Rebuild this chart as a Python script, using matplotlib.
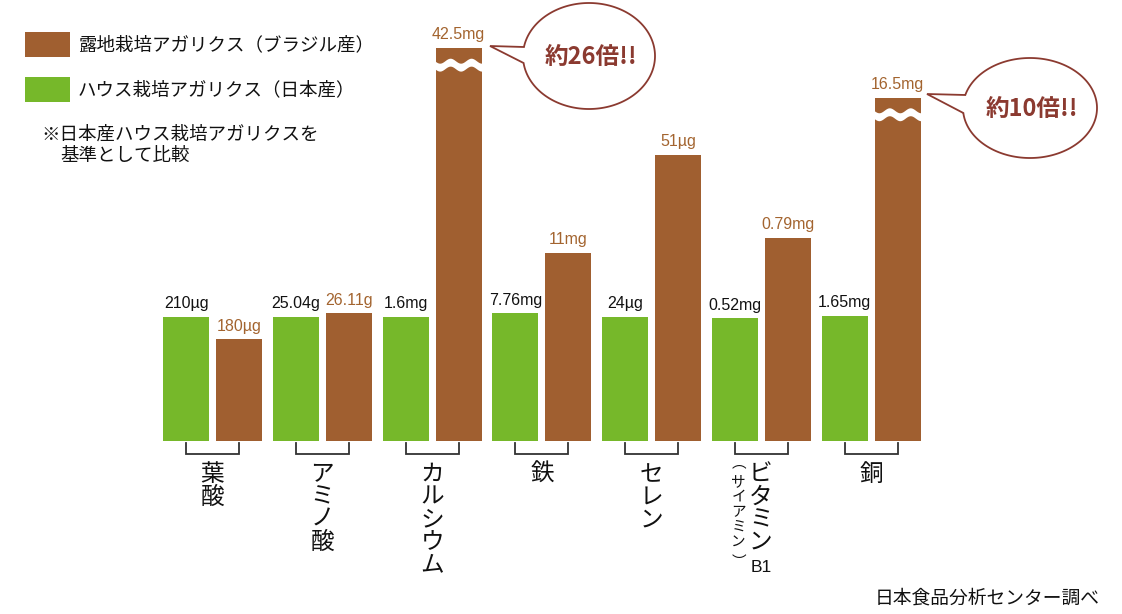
import numpy as np
import matplotlib.pyplot as plt
from matplotlib.patches import Rectangle, Polygon

plt.rcParams['font.family'] = ['Noto Sans CJK JP', 'DejaVu Sans']

# データ（日本産ハウス栽培を基準=1とした見た目の高さ）
categories = ['葉酸', 'アミノ酸', 'カルシウム', '鉄', 'セレン', 'ビタミン', '銅']
japan_labels = ['210µg', '25.04g', '1.6mg', '7.76mg', '24µg', '0.52mg', '1.65mg']
brazil_labels = ['180µg', '26.11g', '42.5mg', '11mg', '51µg', '0.79mg', '16.5mg']
japan_height = [1.0, 1.0, 1.0, 1.03, 1.0, 0.99, 1.01]
brazil_height = [0.82, 1.03, 3.17, 1.52, 2.31, 1.64, 2.77]
broken = [False, False, True, False, False, False, True]
bubble_texts = {2: '約26倍!!', 6: '約10倍!!'}

GREEN = '#76b82a'
BROWN = '#a05f30'
BROWN_TXT = '#a3642f'
RED = '#8b3a30'
NUM_FONT = ['Liberation Sans', 'DejaVu Sans']

fig = plt.figure(figsize=(11.22, 6.14), dpi=100)

# 背景用（ピクセル座標）
bg = fig.add_axes([0, 0, 1, 1])
bg.set_xlim(0, 1122)
bg.set_ylim(614, 0)
bg.axis('off')

ax = fig.add_axes([0.1307, 0.2818, 0.7046, 0.7068])
ax.patch.set_alpha(0)
ax.set_xlim(-0.6, 6.6)
ax.set_ylim(0, 3.5)
ax.axis('off')

x = np.arange(len(categories))
w = 0.419
off = 0.241
ax.bar(x - off, japan_height, width=w, color=GREEN)
ax.bar(x + off, brazil_height, width=w, color=BROWN)

# 数値ラベル
for i in x:
    ax.annotate(japan_labels[i], (i - off, japan_height[i]), xytext=(0, 4),
                textcoords='offset points', ha='center', va='bottom',
                fontsize=11.5, color='#111111', family=NUM_FONT)
    ax.annotate(brazil_labels[i], (i + off, brazil_height[i]), xytext=(0, 4),
                textcoords='offset points', ha='center', va='bottom',
                fontsize=11.5, color=BROWN_TXT, family=NUM_FONT)

# 省略の波線
for i in x:
    if not broken[i]:
        continue
    xs = np.linspace(i + off - w / 2 - 0.01, i + off + w / 2 + 0.01, 200)
    ym = brazil_height[i] - 0.135
    wave = 0.02 * np.sin(2 * np.pi * 2.2 * (xs - xs[0]) / w + np.pi)
    ax.fill_between(xs, ym - 0.032 + wave, ym + 0.032 + wave, color='white', lw=0)

# ブラケット
for i in x:
    ax.plot([i - off, i - off, i + off, i + off], [-0.015, -0.105, -0.105, -0.015],
            color='#333333', lw=1.3, clip_on=False, solid_joinstyle='miter')


def vchar(xc, ch, dx, dy, size, family=None):
    ax.annotate(ch, (xc, 0), xytext=(dx, -dy), textcoords='offset points',
                ha='center', va='center', fontsize=size, color='#111111',
                family=family, annotation_clip=False)


# 項目名（縦書き）
for i in x:
    if i == 5:
        for k, ch in enumerate(categories[i]):
            vchar(i, ch, -0.5, 24 + k * 16.3, 17)
        vchar(i, 'B1', 0, 91, 12.5, NUM_FONT)
        vchar(i, '︵', -16.5, 16, 10.5)
        for k, ch in enumerate('サイアミン'):
            vchar(i, ch, -16.5, 29.5 + k * 10.8, 10.5)
        vchar(i, '︶', -16.5, 87, 10.5)
    else:
        for k, ch in enumerate(categories[i]):
            vchar(i, ch, 0, 24 + k * 16.3, 17)

# 吹き出し
bubbles = [
    (2, 589, 56, 66, 53, (490, 46), 47, 63),
    (6, 1030, 108, 67, 50, (927, 94), 95, 113),
]
for idx, cx, cy, a, b, tip, yu, yl in bubbles:
    tu = np.arctan2((yu - cy) / b, -np.sqrt(1 - ((yu - cy) / b) ** 2))
    tl = np.arctan2((yl - cy) / b, -np.sqrt(1 - ((yl - cy) / b) ** 2))
    if tl < tu:
        tl += 2 * np.pi
    th = np.linspace(tu, tl, 300)
    pts = np.column_stack([cx + a * np.cos(th), cy + b * np.sin(th)])
    pts = np.vstack([pts, tip])
    bg.add_patch(Polygon(pts, closed=True, fc='white', ec=RED, lw=1.3))
    bg.text(cx + 2, cy + 1, bubble_texts[idx], ha='center', va='center',
            fontsize=17, fontweight='bold', color=RED)

# 凡例
bg.add_patch(Rectangle((25, 32), 45, 25, color=BROWN, lw=0))
bg.add_patch(Rectangle((25, 77), 45, 25, color=GREEN, lw=0))
bg.text(78, 45, '露地栽培アガリクス（ブラジル産）', ha='left', va='center',
        fontsize=13.3, color='#111111')
bg.text(78, 90, 'ハウス栽培アガリクス（日本産）', ha='left', va='center',
        fontsize=13.3, color='#111111')
bg.text(41, 135, '※日本産ハウス栽培アガリクスを', ha='left', va='center',
        fontsize=13.3, color='#111111')
bg.text(60, 156, '基準として比較', ha='left', va='center',
        fontsize=13.3, color='#111111')

bg.text(1100, 598, '日本食品分析センター調べ', ha='right', va='center',
        fontsize=13.5, color='#111111')

fig.savefig('out.png', dpi=100)
